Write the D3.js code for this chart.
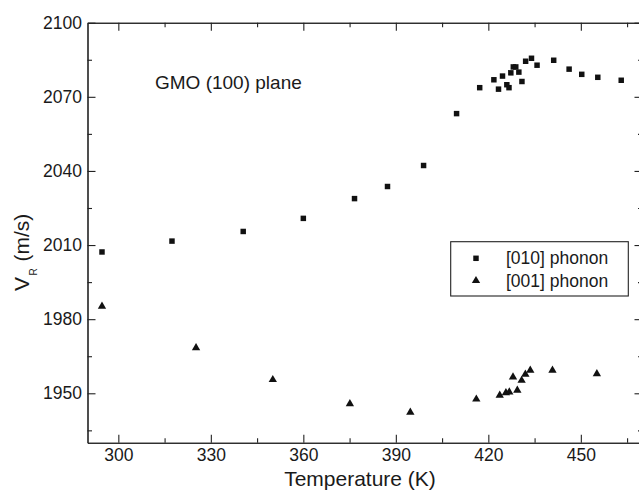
<!DOCTYPE html>
<html>
<head>
<meta charset="utf-8">
<script src="https://cdn.jsdelivr.net/npm/d3@7"></script>
<style>
  body { margin: 0; background: #fff; }
  svg { display: block; font-family: "Liberation Sans", Arial, Helvetica, sans-serif; }
  .axis path, .axis line { stroke: #222; stroke-width: 1.1; }
  .axis text { font-size: 17.5px; fill: #1a1a1a; }
</style>
</head>
<body>
<div id="chart"></div>
<script>
// [010] phonon (squares)
const tempSq = [294.7, 317.4, 340.5, 360.0, 376.6, 387.3, 399.0, 409.7, 417.2, 421.8, 423.3, 424.6,
  426.0, 426.7, 427.3, 428.1, 428.9, 429.9, 430.9, 432.1, 434.0, 435.8, 441.2, 446.2, 450.3, 455.5, 463.1];
const velSq = [2007.2, 2011.6, 2015.5, 2020.8, 2028.8, 2033.7, 2042.2, 2063.2, 2073.7, 2076.9, 2073.1, 2078.4,
  2074.9, 2073.7, 2079.7, 2082.1, 2082.1, 2080.0, 2076.2, 2084.4, 2085.6, 2082.8, 2084.8, 2081.2, 2079.1, 2077.9, 2076.7];

// [001] phonon (triangles)
const tempTri = [294.7, 325.2, 350.1, 375.1, 394.7, 416.1, 423.7, 425.7, 426.8, 429.4, 428.0, 430.8, 432.0, 433.6, 440.8, 455.2];
const velTri = [1985.2, 1968.4, 1955.5, 1945.7, 1942.3, 1947.6, 1949.2, 1950.2, 1950.5, 1951.2, 1956.6, 1955.2, 1957.7, 1959.3, 1959.3, 1957.9];

const xTicks = [300, 330, 360, 390, 420, 450];
const xMinor = [315, 345, 375, 405, 435, 465];
const yTicks = [1950, 1980, 2010, 2040, 2070, 2100];
const yMinor = [1935, 1965, 1995, 2025, 2055, 2085];

const seriesNames = ['[010] phonon', '[001] phonon'];

const width = 639, height = 490;
const plotLeft = 87.5, plotRight = 642.5, plotTop = 22.7, plotBottom = 442.7;

const svg = d3.select('#chart').append('svg')
  .attr('width', width)
  .attr('height', height);

const x = d3.scaleLinear().domain([290, 470]).range([plotLeft, plotRight]);
const y = d3.scaleLinear().domain([1930, 2100]).range([plotBottom, plotTop]);

// axes, ticks pointing inward
function addAxis(axisFn, scale, ticks, size, labels, transform) {
  const ax = axisFn(scale).tickValues(ticks).tickSizeInner(-size).tickSizeOuter(0)
    .tickPadding(labels ? 6 : 0)
    .tickFormat(labels ? d3.format('d') : '');
  return svg.append('g').attr('class', 'axis').attr('transform', transform).call(ax);
}

addAxis(d3.axisBottom, x, xTicks, 8, true, `translate(0,${plotBottom})`);
addAxis(d3.axisBottom, x, xMinor, 4.5, false, `translate(0,${plotBottom})`);
addAxis(d3.axisTop, x, xTicks, 8, false, `translate(0,${plotTop})`);
addAxis(d3.axisTop, x, xMinor, 4.5, false, `translate(0,${plotTop})`);
const ly = addAxis(d3.axisLeft, y, yTicks, 8, true, `translate(${plotLeft},0)`);
ly.selectAll('.tick text').attr('x', -5.5);
addAxis(d3.axisLeft, y, yMinor, 4.5, false, `translate(${plotLeft},0)`);
addAxis(d3.axisRight, y, yTicks, 8, false, `translate(${plotRight},0)`);
addAxis(d3.axisRight, y, yMinor, 4.5, false, `translate(${plotRight},0)`);

// markers
const square = d3.symbol().type(d3.symbolSquare).size(30);
const triangle = d3.symbol().type(d3.symbolTriangle).size(30);

svg.append('g').selectAll('path')
  .data(tempSq.map((t, i) => [t, velSq[i]]))
  .join('path')
  .attr('d', square)
  .attr('transform', d => `translate(${x(d[0])},${y(d[1])})`)
  .attr('fill', '#111');

svg.append('g').selectAll('path')
  .data(tempTri.map((t, i) => [t, velTri[i]]))
  .join('path')
  .attr('d', triangle)
  .attr('transform', d => `translate(${x(d[0])},${y(d[1])})`)
  .attr('fill', '#111');

// axis titles
svg.append('text')
  .attr('x', 360).attr('y', 486)
  .attr('text-anchor', 'middle')
  .attr('font-size', 21)
  .attr('fill', '#1a1a1a')
  .text('Temperature (K)');

const yl = svg.append('g').attr('transform', 'translate(28.5,291) rotate(-90)').attr('fill', '#1a1a1a');
yl.append('text').attr('x', 0).attr('y', 0).attr('font-size', 21).text('V');
yl.append('text').attr('x', 15.5).attr('y', 8.8).attr('font-size', 10).text('R');
yl.append('text').attr('x', 29.5).attr('y', 0).attr('font-size', 21).text('(m/s)');

// annotation
svg.append('text')
  .attr('x', 155).attr('y', 89.3)
  .attr('font-size', 19)
  .attr('fill', '#1a1a1a')
  .text('GMO (100) plane');

// legend
const legend = svg.append('g');
legend.append('rect')
  .attr('x', 450.7).attr('y', 241.7)
  .attr('width', 177.6).attr('height', 54.3)
  .attr('fill', '#fff')
  .attr('stroke', '#222')
  .attr('stroke-width', 1.1);
const legendShapes = [square, triangle];
seriesNames.forEach((name, i) => {
  legend.append('path')
    .attr('d', legendShapes[i])
    .attr('transform', `translate(476,${258.3 + i * 22.4})`)
    .attr('fill', '#111');
  legend.append('text')
    .attr('x', 506).attr('y', 264.3 + i * 22.4)
    .attr('font-size', 17.5)
    .attr('fill', '#1a1a1a')
    .text(name);
});
</script>
</body>
</html>
